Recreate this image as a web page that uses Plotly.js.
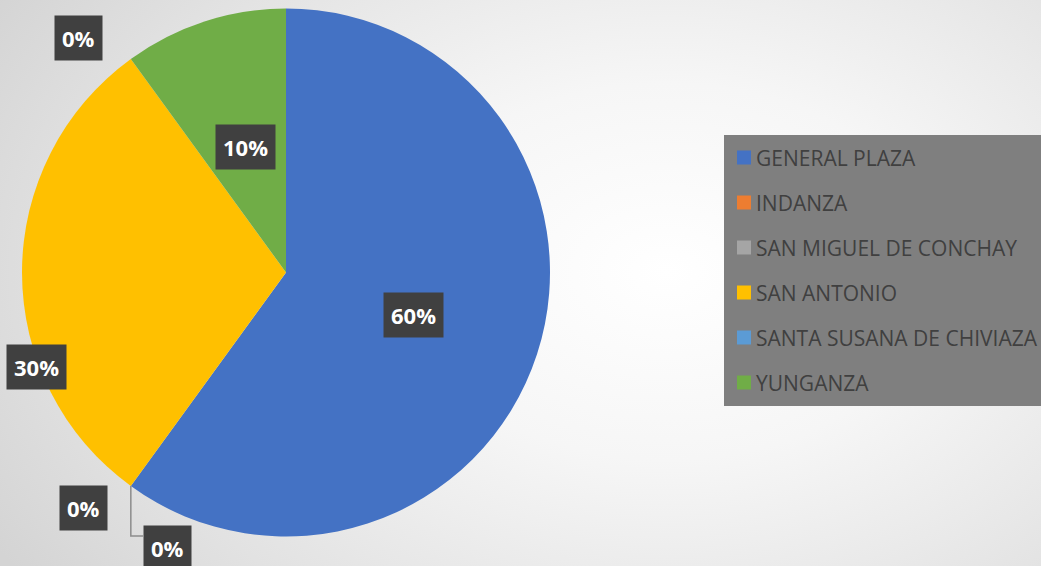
<!DOCTYPE html>
<html>
<head>
<meta charset="utf-8">
<script src="https://cdn.plot.ly/plotly-3.0.1.min.js"></script>
<style>
  html, body { margin: 0; padding: 0; }
  #chart {
    width: 1041px; height: 566px;
    background: radial-gradient(ellipse 75% 95% at 64% 48%, #ffffff 0%, #f6f6f6 35%, #e2e2e2 75%, #d4d4d4 100%);
  }
</style>
</head>
<body>
<div id="chart"></div>
<script>
// ---- data ----
const categories = ["GENERAL PLAZA", "INDANZA", "SAN MIGUEL DE CONCHAY", "SAN ANTONIO", "SANTA SUSANA DE CHIVIAZA", "YUNGANZA"];
const shares = [60, 0, 0, 30, 0, 10];
const labelTexts = ["60%", "0%", "0%", "30%", "0%", "10%"];
const colors = ["#4472C4", "#ED7D31", "#A5A5A5", "#FFC000", "#5B9BD5", "#70AD47"];

// ---- layout helpers (pixels) ----
const W = 1041, H = 566;
const cx = 286, cy = 272.5, R = 264;
const px = x => x / W;
const py = y => 1 - y / H;

// label centres (pixel layout positions)
const labelPos = [[413, 315], [83, 508], [167, 548], [36, 367], [78, 38], [245, 147]];

const annotations = [];
const shapes = [];

categories.forEach((c, i) => {
  annotations.push({
    x: px(labelPos[i][0]), y: py(labelPos[i][1]), xref: 'paper', yref: 'paper',
    xanchor: 'center', yanchor: 'middle', showarrow: false,
    text: '<b>' + labelTexts[i] + '</b>',
    font: { family: 'Open Sans, sans-serif', size: 22, color: '#ffffff' },
    bgcolor: '#404040', borderpad: 7
  });
});

// leader line from the zero slice boundary (after GENERAL PLAZA)
const total = shares.reduce((a, b) => a + b, 0);
const frac = shares[0] / total;
const ang = frac * 2 * Math.PI;
const bx = cx + R * Math.sin(ang), by = cy - R * Math.cos(ang);
shapes.push({
  type: 'path', xref: 'paper', yref: 'paper',
  path: `M ${px(bx)} ${py(by)} L ${px(bx)} ${py(536)} L ${px(143)} ${py(536)}`,
  line: { color: '#8c8c8c', width: 1.5 }
});

// legend box
shapes.push({
  type: 'rect', xref: 'paper', yref: 'paper', layer: 'above',
  x0: px(724), x1: px(1045), y0: py(406), y1: py(135),
  fillcolor: '#7f7f7f', line: { width: 0 }
});
categories.forEach((c, i) => {
  const yc = 157.5 + 45 * i;
  shapes.push({
    type: 'rect', xref: 'paper', yref: 'paper',
    x0: px(737), x1: px(751), y0: py(yc + 7), y1: py(yc - 7),
    fillcolor: colors[i], line: { width: 0 }
  });
  annotations.push({
    x: px(754), y: py(yc), xref: 'paper', yref: 'paper',
    xanchor: 'left', yanchor: 'middle', showarrow: false,
    text: c, font: { family: 'Open Sans, sans-serif', size: 21, color: '#404040' }
  });
});

const trace = {
  type: 'pie',
  labels: categories,
  values: shares,
  sort: false,
  direction: 'clockwise',
  rotation: 0,
  marker: { colors: colors, line: { width: 0 } },
  textinfo: 'none',
  hoverinfo: 'label+percent',
  domain: { x: [px(cx - R), px(cx + R)], y: [py(cy + R), py(cy - R)] },
  showlegend: false
};

Plotly.newPlot('chart', [trace], {
  width: W, height: H,
  margin: { l: 0, r: 0, t: 0, b: 0 },
  paper_bgcolor: 'rgba(0,0,0,0)',
  plot_bgcolor: 'rgba(0,0,0,0)',
  showlegend: false,
  annotations: annotations,
  shapes: shapes
}, { displayModeBar: false, staticPlot: false });
</script>
</body>
</html>
